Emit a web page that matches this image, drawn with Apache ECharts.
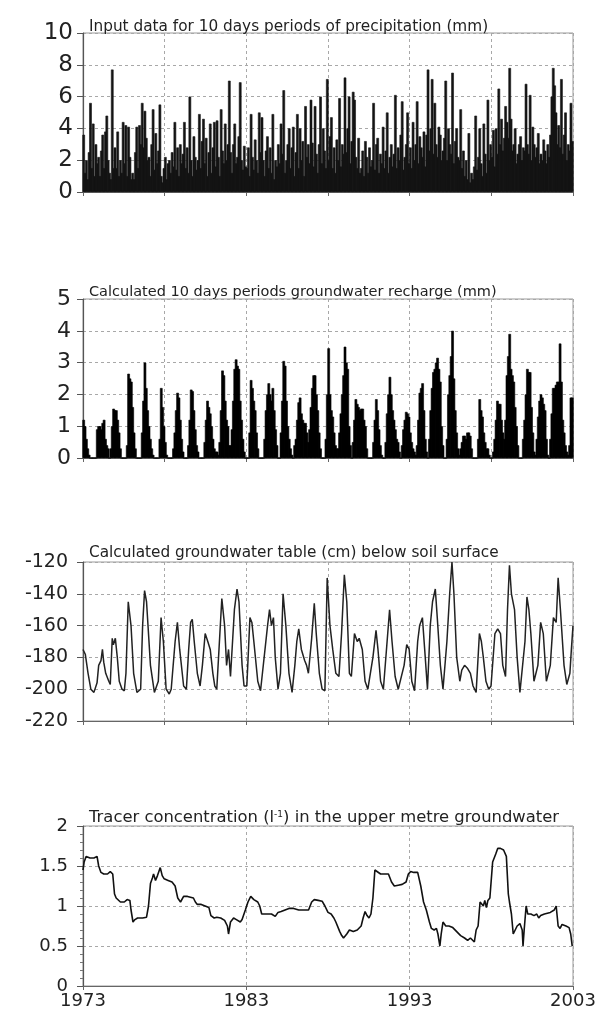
<!DOCTYPE html>
<html><head><meta charset="utf-8">
<script src="https://cdn.jsdelivr.net/npm/echarts@6/dist/echarts.min.js"></script>
<style>html,body{margin:0;padding:0;background:#fff}#c{width:612px;height:1010px}</style>
</head><body><div id="c"></div>
<script>
const startYear = 1973;
const endYear = 2003;

// Panel 1: precipitation per period (mm), 12 values per year 1973..2002
const precipitation = [
3.6,1.2,2.0,0.8,2.5,5.6,1.5,4.3,1.0,3.0,1.8,2.2,
1.0,2.6,3.6,1.5,3.8,4.8,2.0,1.2,0.8,7.7,1.5,2.8,
1.5,3.8,1.0,2.0,1.2,4.4,1.8,4.2,1.0,4.1,2.2,0.8,
1.2,0.8,2.5,4.1,1.5,4.2,3.0,5.6,2.8,5.1,3.4,2.0,
2.2,1.0,3.0,5.2,1.4,3.7,1.8,2.6,5.5,1.0,0.6,1.5,
2.2,0.8,1.8,2.0,1.2,2.5,1.6,4.4,1.4,2.8,1.0,3.0,
1.8,2.4,4.4,1.5,2.8,1.2,6.0,2.0,1.0,3.5,2.2,1.4,
2.0,4.9,1.5,3.2,4.6,1.8,3.4,1.0,2.5,4.3,1.2,2.8,
4.4,1.6,4.5,2.2,1.0,5.2,2.6,1.8,4.3,2.0,3.0,7.0,
2.5,1.2,3.0,4.3,1.8,2.2,3.5,6.9,2.0,1.4,2.9,1.6,
1.5,2.8,1.0,4.9,2.2,1.4,3.3,2.0,1.2,5.0,2.5,4.7,
2.0,1.0,2.6,3.5,1.5,2.8,1.2,4.9,0.8,2.0,1.6,3.0,
1.8,4.3,2.4,6.4,1.2,2.0,3.0,4.0,1.5,2.8,4.1,1.0,
2.5,4.9,1.5,4.0,2.0,3.2,1.0,5.4,2.2,3.0,1.8,5.8,
3.1,1.6,5.4,2.4,1.2,3.0,6.0,1.8,4.0,2.6,1.5,7.1,
2.0,3.5,4.7,1.5,2.8,1.2,3.3,2.0,5.9,1.6,3.0,2.4,
7.2,2.5,4.0,6.0,1.8,3.2,6.3,5.8,2.2,1.5,3.4,1.2,
1.5,2.6,1.0,3.2,2.2,1.2,2.8,1.6,2.0,5.6,1.4,3.0,
3.4,1.2,2.4,1.8,4.1,1.5,2.6,5.0,1.2,2.2,3.0,1.6,
2.4,6.1,1.5,2.8,2.0,3.6,5.7,1.4,2.2,3.0,5.0,1.8,
2.8,1.5,4.4,2.0,3.0,5.7,1.8,3.5,2.8,2.2,3.8,1.6,
3.6,7.7,2.6,4.0,7.1,2.4,5.6,3.0,2.2,4.1,3.6,2.0,
2.6,3.4,7.0,2.0,4.0,3.0,2.4,7.5,1.8,3.2,4.0,2.2,
2.0,5.2,1.5,2.6,1.0,2.0,0.8,3.7,0.6,1.2,0.8,1.6,
4.8,1.4,2.2,4.0,1.8,1.0,4.3,2.4,1.2,5.8,2.0,3.0,
2.2,3.9,1.6,4.0,2.4,6.5,3.0,4.6,2.6,3.4,5.4,4.4,
3.4,7.8,4.6,2.6,3.0,4.0,1.8,2.4,3.0,3.5,2.0,2.8,
2.6,6.8,3.0,2.4,6.1,2.0,4.1,3.0,2.2,2.8,3.7,1.8,
2.4,2.0,3.3,2.6,1.8,3.0,2.2,3.6,6.0,7.8,6.7,5.0,
3.0,4.2,2.8,7.1,2.4,3.6,5.0,2.0,3.0,2.6,5.6,3.2
];

// Panel 2: groundwater recharge per period (mm), 12 values per year 1973..2002
const recharge = [
1.2,1.0,0.6,0.3,0.1,0,0,0,0,0,0.9,1.0,
1.0,0.9,1.1,1.2,0.6,0.4,0.3,0,0.3,1.0,1.55,1.5,
1.5,1.2,0.8,0.3,0,0,0,0,0.4,2.65,2.5,2.4,
1.6,0.8,0.3,0,0,0,0,0.8,1.8,3.0,2.2,1.5,
1.0,0.6,0.3,0.1,0,0,0,0,0.6,2.2,1.6,1.0,
0.5,0.1,0,0,0,0,0.3,0.8,1.5,2.05,1.9,1.2,
0.6,0.2,0,0,0,0.4,1.2,2.15,2.1,1.5,0.9,0.4,
0.2,0,0,0,0,0.5,1.2,1.8,1.6,1.4,1.0,0.6,
0.3,0.2,0.2,0.1,0.5,1.5,2.75,2.6,1.8,1.2,1.0,0.4,
0.4,0.9,1.8,2.8,3.1,2.9,2.8,1.8,1.2,0.6,0.2,0,
0,0,0.8,2.45,2.2,1.8,1.5,0.8,0.3,0,0,0,
0,0.6,1.5,2.0,2.35,2.0,1.8,2.2,1.5,0.9,0.4,0,
0,0.8,1.8,3.05,2.9,1.8,1.0,0.6,0.3,0.1,0,0.4,
0.6,1.2,1.75,1.9,1.4,1.2,1.1,1.1,0.8,0.5,0.9,1.6,
2.2,2.6,2.6,2.0,1.5,0.8,0.3,0,0,0,0.6,2.0,
3.45,2.0,1.5,1.3,0.8,0.4,0.3,0.3,0.8,1.4,2.0,2.6,
3.5,3.0,2.8,1.0,0.4,0,0.5,1.2,1.85,1.7,1.6,1.5,
1.55,1.55,1.2,1.0,0.3,0,0,0,0,0.5,1.2,1.85,
1.5,0.9,0.4,0.1,0,0,0.5,1.4,2.0,2.55,2.0,1.5,
1.2,0.9,0.6,0.5,0.2,0,0.4,0.9,1.2,1.45,1.4,1.3,
0.8,0.5,0.3,0.2,0.1,0.4,1.2,2.05,2.2,2.35,1.5,0.6,
0.2,0,0.6,1.5,2.2,2.7,2.8,3.0,3.15,2.8,2.4,1.0,
0.4,0,0,0.6,2.0,2.6,3.2,4.0,2.5,1.5,0.8,0.3,
0.1,0.3,0.5,0.7,0.7,0.6,0.8,0.8,0.7,0.3,0,0,
0,0,0.6,1.85,1.5,1.3,0.8,0.5,0.3,0.3,0.1,0,
0,0.2,0.6,1.2,1.8,1.7,1.7,1.2,0.8,0.6,1.2,2.6,
3.2,3.9,2.8,2.6,2.4,1.6,1.0,0.4,0,0,0,0.6,
1.2,2.0,2.8,2.7,2.7,1.6,0.8,0.2,0.1,0.6,1.3,1.8,
2.0,1.9,1.7,1.5,0.6,0.1,0,0.6,1.4,2.2,2.2,2.3,
2.4,2.4,3.6,2.4,1.2,0.8,0.4,0.2,0.1,0.4,1.9,1.9
];

// Panel 3: groundwater table (cm below surface)
const gwYears = [
1973.00,1973.14,1973.31,1973.48,1973.67,1973.86,1973.96,1974.10,1974.19,1974.27,1974.39,1974.58,1974.67,
1974.79,1974.86,1974.98,1975.10,1975.22,1975.39,1975.53,1975.63,1975.77,1975.94,1976.10,1976.30,
1976.53,1976.65,1976.77,1976.89,1977.13,1977.37,1977.61,1977.78,1977.92,1978.09,1978.28,1978.40,
1978.64,1978.78,1978.92,1979.16,1979.33,1979.47,1979.59,1979.69,1979.81,1980.00,1980.17,
1980.31,1980.48,1980.64,1980.79,1980.95,1981.07,1981.19,1981.38,1981.50,1981.67,1981.79,1981.91,1982.03,
1982.27,1982.43,1982.55,1982.74,1982.86,1983.03,1983.22,1983.34,1983.46,1983.70,1983.87,1983.99,
1984.30,1984.42,1984.54,1984.66,1984.77,1984.94,1985.09,1985.25,1985.42,1985.61,1985.80,
1985.97,1986.09,1986.21,1986.37,1986.57,1986.69,1986.80,1987.00,1987.16,1987.28,1987.47,1987.64,1987.81,
1987.95,1988.12,1988.29,1988.48,1988.67,1988.83,1989.00,1989.15,1989.31,1989.43,
1989.62,1989.79,1989.91,1990.10,1990.27,1990.44,1990.75,1990.94,1991.06,1991.22,1991.39,
1991.58,1991.77,1991.92,1992.11,1992.30,1992.42,1992.66,1992.82,1992.97,1993.13,1993.30,
1993.49,1993.61,1993.78,1993.92,1994.09,1994.26,1994.40,1994.57,1994.69,1994.88,1995.04,
1995.28,1995.45,1995.59,1995.71,1995.88,1996.07,1996.19,1996.36,1996.55,1996.72,1996.88,1997.07,
1997.27,1997.39,1997.51,1997.67,1997.84,1997.98,1998.22,1998.39,1998.56,1998.70,1998.87,
1998.99,1999.11,1999.23,1999.42,1999.58,1999.75,2000.06,2000.18,2000.30,2000.42,2000.61,
2000.85,2001.02,2001.18,2001.37,2001.61,2001.80,2001.97,2002.09,2002.23,2002.45,2002.62,
2002.81,2002.90,2003.00
];
const gwLevel = [
-175,-178,-190,-200,-202,-196,-185,-182,-175,-183,-190,-195,-197,
-168,-172,-168,-180,-195,-200,-201,-190,-145,-160,-190,-202,
-200,-160,-138,-145,-185,-202,-195,-155,-170,-200,-203,-200,
-170,-158,-175,-198,-200,-175,-158,-156,-170,-190,-198,
-185,-165,-170,-175,-190,-198,-200,-165,-143,-160,-185,-175,-192,
-150,-137,-145,-185,-198,-198,-155,-158,-170,-195,-201,-200,
-160,-150,-160,-155,-180,-200,-190,-140,-160,-190,-202,
-185,-170,-162,-175,-182,-185,-190,-168,-146,-165,-190,-200,-201,
-130,-160,-175,-190,-192,-165,-128,-145,-190,-192,
-165,-170,-168,-175,-195,-200,-180,-163,-175,-195,-200,
-175,-150,-170,-192,-200,-201,-185,-172,-175,-195,-201,
-170,-160,-155,-175,-200,-160,-145,-137,-155,-185,-200,
-170,-140,-120,-140,-180,-195,-188,-185,-187,-190,-198,-202,
-165,-170,-180,-195,-200,-198,-165,-162,-165,-185,-192,
-150,-122,-140,-150,-180,-202,-170,-142,-150,-165,-195,
-185,-158,-165,-195,-185,-155,-158,-130,-150,-185,-197,
-190,-175,-160
];

// Panel 4: tracer concentration (l^-1)
const tracerYears = [
1973.00,1973.07,1973.19,1973.43,1973.67,1973.79,1973.86,1973.96,1974.10,1974.27,1974.50,1974.67,1974.82,
1974.93,1975.03,1975.15,1975.29,1975.53,1975.70,1975.87,1975.94,1976.06,1976.18,1976.34,1976.65,1976.89,
1977.01,1977.13,1977.25,1977.32,1977.44,1977.56,1977.73,1977.85,1977.97,1978.21,1978.45,1978.64,1978.80,
1978.97,1979.16,1979.40,1979.76,1979.88,1980.00,1980.24,1980.71,1980.83,1981.03,1981.19,1981.43,1981.67,
1981.84,1981.91,1982.03,1982.22,1982.39,1982.63,1982.74,1982.94,1983.10,1983.27,1983.46,1983.70,1983.82,
1983.94,1984.18,1984.54,1984.77,1984.94,1985.13,1985.37,1985.61,1985.90,1986.21,1986.81,1987.00,1987.16,
1987.40,1987.64,1987.81,1988.00,1988.19,1988.36,1988.48,1988.72,1988.84,1988.95,1989.15,1989.31,1989.55,
1989.79,1990.03,1990.15,1990.27,1990.39,1990.51,1990.63,1990.75,1990.87,1990.98,1991.22,1991.46,1991.70,
1991.89,1992.06,1992.30,1992.54,1992.78,1992.92,1993.06,1993.25,1993.49,1993.68,1993.85,1994.02,1994.21,
1994.33,1994.50,1994.64,1994.73,1994.85,1994.93,1995.04,1995.21,1995.40,1995.64,1995.88,1996.12,1996.36,
1996.55,1996.72,1996.84,1996.96,1997.07,1997.19,1997.31,1997.43,1997.51,1997.60,1997.70,1997.79,1997.91,
1998.08,1998.27,1998.39,1998.56,1998.75,1998.92,1999.04,1999.11,1999.23,1999.34,1999.46,1999.58,1999.75,
1999.89,1999.94,2000.01,2000.13,2000.23,2000.42,2000.61,2000.78,2000.90,2001.02,2001.25,2001.61,2001.85,
2001.97,2002.09,2002.21,2002.33,2002.57,2002.76,2002.86,2002.95
];
const tracerConc = [
1.45,1.55,1.62,1.60,1.60,1.58,1.62,1.50,1.42,1.40,1.40,1.43,1.40,
1.15,1.10,1.08,1.05,1.05,1.08,1.07,0.95,0.80,0.83,0.85,0.85,0.86,
1.00,1.28,1.35,1.40,1.32,1.38,1.48,1.38,1.34,1.32,1.30,1.25,1.10,
1.05,1.12,1.12,1.10,1.05,1.02,1.02,0.98,0.88,0.85,0.86,0.85,0.82,
0.75,0.65,0.80,0.85,0.83,0.80,0.83,0.95,1.05,1.12,1.08,1.05,1.00,
0.90,0.90,0.90,0.87,0.92,0.93,0.95,0.97,0.97,0.95,0.95,1.05,1.08,
1.07,1.06,1.00,0.92,0.90,0.85,0.80,0.68,0.63,0.60,0.65,0.70,0.68,
0.70,0.75,0.85,0.93,0.88,0.85,0.90,1.10,1.45,1.43,1.40,1.40,1.40,
1.30,1.25,1.26,1.27,1.30,1.40,1.43,1.42,1.42,1.25,1.05,0.95,0.80,
0.72,0.70,0.72,0.65,0.50,0.65,0.80,0.75,0.75,0.73,0.68,0.63,0.60,
0.57,0.60,0.58,0.55,0.70,0.75,1.05,1.05,1.00,1.07,0.98,1.07,1.10,
1.55,1.65,1.72,1.72,1.70,1.62,1.15,1.05,0.90,0.65,0.70,0.75,0.78,
0.70,0.50,0.70,1.00,0.90,0.90,0.88,0.90,0.85,0.88,0.90,0.92,0.95,
1.00,0.75,0.72,0.77,0.75,0.73,0.65,0.50
];

const panelTitles = [
  'Input data for 10 days periods of precipitation (mm)',
  'Calculated 10 days periods groundwater recharge (mm)',
  'Calculated groundwater table (cm) below soil surface',
  'Tracer concentration (l{sup|-1}) in the upper metre groundwater'
];
const yMin = [0, 0, -220, 0];
const yMax = [10, 5, -120, 2];
const yStep = [2, 1, 20, 0.5];
const yearTicks = [5, 5, 5, 10];

function monthly(vals) { return vals.map((v, i) => [(i + 0.5) / 12, v]); }
function pairs(xs, ys) { return xs.map((x, i) => [x - startYear, ys[i]]); }

const FONT = 'DejaVu Sans, Liberation Sans, Arial, sans-serif';
const gridTops = [33, 299, 562, 826];
const gridH = [159, 159, 159, 160];
const yFont = [23, 22, 19, 18];
const yMargin = [10, 12, 15, 15];
const titleTops = [15, 280, 541, 805];
const titleFont = [15.3, 14.5, 15.3, 16.4];

const grids = gridTops.map((t, i) => ({
  left: 83, width: 490, top: t, height: gridH[i],
  show: true, borderColor: '#9a9a9a', borderWidth: 1, backgroundColor: 'transparent'
}));

const dashed = { show: true, lineStyle: { color: '#a8a8a8', type: [3, 3], width: 1 } };

const xAxes = [0, 1, 2, 3].map(i => ({
  type: 'value', gridIndex: i, min: 0, max: endYear - startYear, interval: yearTicks[i],
  splitLine: dashed,
  axisLine: { show: true, lineStyle: { color: '#666', width: 1 } },
  axisTick: { show: true, length: 4, lineStyle: { color: '#666' } },
  axisLabel: {
    show: i === 3, fontSize: 18, color: '#222', fontFamily: FONT, margin: 6,
    formatter: v => String(startYear + v)
  }
}));

const yAxes = [0, 1, 2, 3].map(i => ({
  type: 'value', gridIndex: i, min: yMin[i], max: yMax[i], interval: yStep[i],
  splitLine: dashed,
  axisLine: { show: true, lineStyle: { color: '#555', width: 1.2 } },
  axisTick: { show: true, length: 6, lineStyle: { color: '#555' } },
  minorTick: i === 3 ? { show: true, splitNumber: 5, length: 3, lineStyle: { color: '#777' } } : { show: false },
  axisLabel: { fontSize: yFont[i], color: '#222', fontFamily: FONT, margin: yMargin[i] }
}));

const titles = panelTitles.map((txt, i) => ({
  text: txt, left: 84, top: titleTops[i],
  textStyle: {
    fontSize: titleFont[i], fontWeight: 'normal', color: '#222', fontFamily: FONT,
    rich: { sup: { fontSize: 9, verticalAlign: 'top', lineHeight: 10, color: '#222', fontFamily: FONT, padding: [0, 0, 6, 0] } }
  }
}));

const chart = echarts.init(document.getElementById('c'), null, { renderer: 'canvas' });
chart.setOption({
  animation: false,
  backgroundColor: '#fff',
  title: titles,
  grid: grids,
  xAxis: xAxes,
  yAxis: yAxes,
  series: [
    { type: 'bar', xAxisIndex: 0, yAxisIndex: 0, data: monthly(precipitation),
      barWidth: 2.6, itemStyle: { color: '#141414', borderColor: '#141414', borderWidth: 0.6 }, silent: true },
    { type: 'bar', xAxisIndex: 1, yAxisIndex: 1, data: monthly(recharge),
      barWidth: 2.6, itemStyle: { color: '#000', borderColor: '#000', borderWidth: 0.6 }, silent: true },
    { type: 'line', xAxisIndex: 2, yAxisIndex: 2, data: pairs(gwYears, gwLevel),
      showSymbol: false, lineStyle: { color: '#222', width: 1.5 }, silent: true },
    { type: 'line', xAxisIndex: 3, yAxisIndex: 3, data: pairs(tracerYears, tracerConc),
      showSymbol: false, lineStyle: { color: '#111', width: 1.6 }, silent: true }
  ]
});
</script>
</body></html>
